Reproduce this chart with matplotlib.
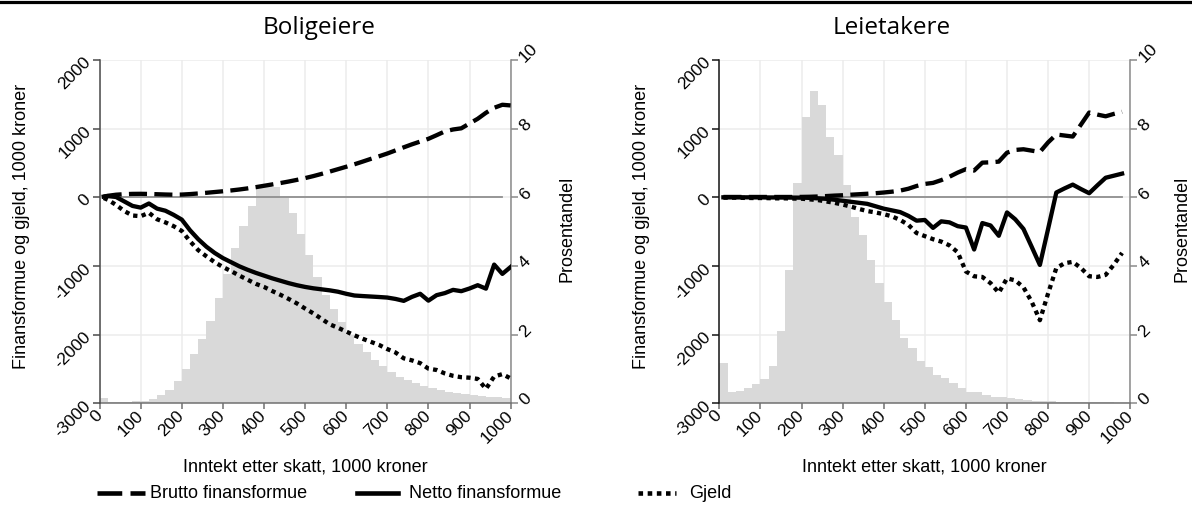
import numpy as np
import matplotlib as mpl
import matplotlib.pyplot as plt
from matplotlib.lines import Line2D

W, H = 1192, 527

mpl.rcParams.update({
    "font.family": ["Liberation Sans", "DejaVu Sans"],
    "font.size": 13,
    "axes.unicode_minus": False,
    "savefig.dpi": 100,
})

# inntekt etter skatt (1000 kr), midtpunkt for hver inntektsgruppe
INNTEKT_EIER = [10] + list(range(20, 1001, 20))
INNTEKT_LEIE = [10] + list(range(20, 981, 20))
BIN_START = list(range(0, 1000, 20))   # histogram, 20' kroners intervaller

# Boligeiere, 1000 kroner
EIER_BRUTTO = [10, 22, 38, 46, 50, 51, 49, 45, 41, 38, 40, 47, 56, 66, 77, 88, 100,
               114, 130, 148, 168, 188, 208, 230, 254, 280, 309, 341, 375, 410, 445,
               481, 520, 560, 598, 638, 683, 728, 772, 812, 852, 905, 960, 988, 1005,
               1075, 1144, 1231, 1304, 1348, 1338]
EIER_NETTO = [10, 18, 5, -60, -125, -150, -90, -165, -195, -255, -325, -480, -610,
              -720, -810, -885, -945, -1005, -1055, -1100, -1140, -1180, -1215,
              -1250, -1280, -1305, -1325, -1340, -1355, -1375, -1405, -1430, -1438,
              -1445, -1452, -1460, -1480, -1508, -1450, -1405, -1505, -1425, -1395,
              -1348, -1367, -1328, -1280, -1330, -980, -1115, -1015]
EIER_GJELD = [-10, -35, -110, -200, -265, -275, -225, -320, -365, -420, -490, -640,
              -770, -860, -945, -1015, -1075, -1140, -1200, -1260, -1305, -1365,
              -1420, -1480, -1545, -1620, -1690, -1770, -1850, -1900, -1955, -2010,
              -2060, -2105, -2150, -2210, -2260, -2345, -2375, -2415, -2495, -2515,
              -2565, -2600, -2620, -2627, -2645, -2790, -2610, -2575, -2637]
EIER_ANDEL = [0.14, 0.05, 0.05, 0.04, 0.06, 0.08, 0.13, 0.23, 0.39, 0.66, 0.99, 1.45,
              1.86, 2.40, 3.06, 3.78, 4.52, 5.17, 5.75, 6.28, 6.32, 6.31, 5.97, 5.53,
              4.92, 4.32, 3.69, 3.15, 2.74, 2.38, 2.00, 1.72, 1.48, 1.26, 1.08, 0.92,
              0.78, 0.67, 0.58, 0.50, 0.44, 0.39, 0.34, 0.30, 0.27, 0.24, 0.21, 0.19,
              0.17, 0.15]

# Leietakere, 1000 kroner
LEIE_BRUTTO = [5, 5, 5, 5, 5, 5, 5, 5, 5, 5, 6, 8, 12, 18, 25, 30, 38, 45, 52, 60,
               70, 82, 98, 125, 165, 195, 210, 250, 300, 360, 410, 390, 505, 510, 520,
               650, 690, 700, 680, 660, 800, 915, 900, 885, 1060, 1235, 1205, 1180,
               1215, 1245]
LEIE_NETTO = [0, 0, 0, 0, 0, 0, -2, -2, -3, -4, -5, -8, -15, -22, -35, -50, -65, -80,
              -95, -130, -165, -190, -215, -270, -340, -330, -445, -350, -365, -420,
              -440, -760, -375, -410, -560, -220, -320, -460, -720, -985, -460, 70,
              130, 185, 120, 60, 175, 285, 315, 345]
LEIE_GJELD = [-5, -5, -5, -8, -10, -10, -12, -15, -15, -18, -20, -30, -40, -60, -80,
              -105, -135, -170, -200, -220, -245, -277, -330, -400, -520, -565, -610,
              -645, -700, -800, -1080, -1150, -1160, -1250, -1390, -1180, -1210, -1310,
              -1520, -1790, -1400, -1030, -960, -940, -1030, -1150, -1160, -1130, -980,
              -810]
LEIE_ANDEL = [1.18, 0.34, 0.37, 0.44, 0.55, 0.72, 1.10, 2.12, 3.89, 6.43, 8.35, 9.11,
              8.69, 7.77, 7.23, 6.35, 5.44, 4.90, 4.17, 3.50, 2.95, 2.42, 1.90, 1.61,
              1.22, 1.07, 0.81, 0.74, 0.60, 0.44, 0.34, 0.32, 0.25, 0.19, 0.17, 0.15,
              0.13, 0.11, 0.08, 0.07, 0.06, 0.05, 0.05, 0.04, 0.04, 0.03, 0.03, 0.03,
              0.02, 0.02]

NULLINJE = [10, 980]

HIST = "#d9d9d9"
GRID = "#ececec"
ZERO = "#8f8f8f"
LW = 3.1
DASH = (0, (4.2, 1.7))
DOT = (0, (1.0, 1.0))
TICK_FS = 12.5


def px(x):
    return x / W


def py(y):
    return 1 - y / H


def panel(x0, title, title_x, x, brutto, netto, gjeld, andel, spine_left, pct_x):
    x1 = x0 + 411
    rect = [px(x0), py(403.3), px(x1) - px(x0), py(60) - py(403.3)]
    hax = fig.add_axes(rect)
    hax.bar(BIN_START, andel, width=20, align="edge", color=HIST, lw=0)
    hax.set_xlim(0, 1000)
    hax.set_ylim(0, 10)
    hax.set_xticks(range(0, 1001, 100))
    hax.set_yticks(range(0, 11, 2))
    hax.grid(True, color=GRID, lw=1.1)
    hax.set_axisbelow(True)

    fax = hax.twinx()
    hax.yaxis.tick_right()
    fax.yaxis.tick_left()
    fax.set_ylim(-3000, 2000)
    fax.set_yticks(range(-3000, 2001, 1000))
    fax.plot(NULLINJE, [0, 0], color=ZERO, lw=1.3)
    fax.plot(x, brutto, color="black", lw=LW, linestyle=DASH)
    fax.plot(x, netto, color="black", lw=LW)
    fax.plot(x, gjeld, color="black", lw=LW, linestyle=DOT)

    for sp in ("top", "left"):
        hax.spines[sp].set_visible(False)
    hax.spines["right"].set_color("#8a8a8a")
    hax.spines["bottom"].set_color("#707070")
    for sp in ("top", "bottom", "right"):
        fax.spines[sp].set_visible(False)
    fax.spines["left"].set_color(spine_left)
    for s in (hax.spines["right"], hax.spines["bottom"], fax.spines["left"]):
        s.set_linewidth(1.1)

    hax.tick_params(axis="x", length=4, width=1.1, color="#707070", labelsize=TICK_FS, pad=3)
    hax.tick_params(axis="y", length=5, width=1.1, color="#8a8a8a", labelsize=TICK_FS, pad=3)
    fax.tick_params(axis="y", length=5, width=1.1, color=spine_left, labelsize=TICK_FS, pad=3)
    for lab in hax.get_xticklabels():
        lab.set(rotation=45, ha="right", va="center", rotation_mode="anchor")
    for lab in fax.get_yticklabels():
        lab.set(rotation=45, ha="right", va="center", rotation_mode="anchor")
    for lab in hax.get_yticklabels():
        lab.set(rotation=45, ha="left", va="center", rotation_mode="anchor")

    fig.text(px(title_x), py(28), title, ha="center", va="center",
             fontsize=17.5, family=["Open Sans", "DejaVu Sans"])
    fig.text(px((x0 + x1) / 2), py(467), "Inntekt etter skatt, 1000 kroner",
             ha="center", va="center")
    fig.text(px(x0 - 78), py(226), "Finansformue og gjeld, 1000 kroner",
             rotation=90, ha="center", va="center")
    fig.text(px(pct_x), py(229), "Prosentandel",
             rotation=90, ha="center", va="center")


fig = plt.figure(figsize=(W / 100, H / 100), dpi=100)

panel(99.6, "Boligeiere", 318.8, INNTEKT_EIER, EIER_BRUTTO, EIER_NETTO,
      EIER_GJELD, EIER_ANDEL, "#4a4a4a", 567)
panel(719.3, "Leietakere", 891.5, INNTEKT_LEIE, LEIE_BRUTTO, LEIE_NETTO,
      LEIE_GJELD, LEIE_ANDEL, "#151515", 1182)

# tegnforklaring
legend = [
    (97, 145, 150, "Brutto finansformue", (0, (5.4, 1.8))),
    (357, 398, 409, "Netto finansformue", "-"),
    (638, 676, 689, "Gjeld", DOT),
]
for a, b, t, label, ls in legend:
    fig.add_artist(Line2D([px(a), px(b)], [py(493), py(493)], color="black",
                          lw=LW + 0.2, linestyle=ls))
    fig.text(px(t), py(493), label, ha="left", va="center")

# strek langs toppen
fig.add_artist(Line2D([0, 1], [py(1.5), py(1.5)], color="black", lw=2.3))

fig.savefig("out.png", dpi=100)
